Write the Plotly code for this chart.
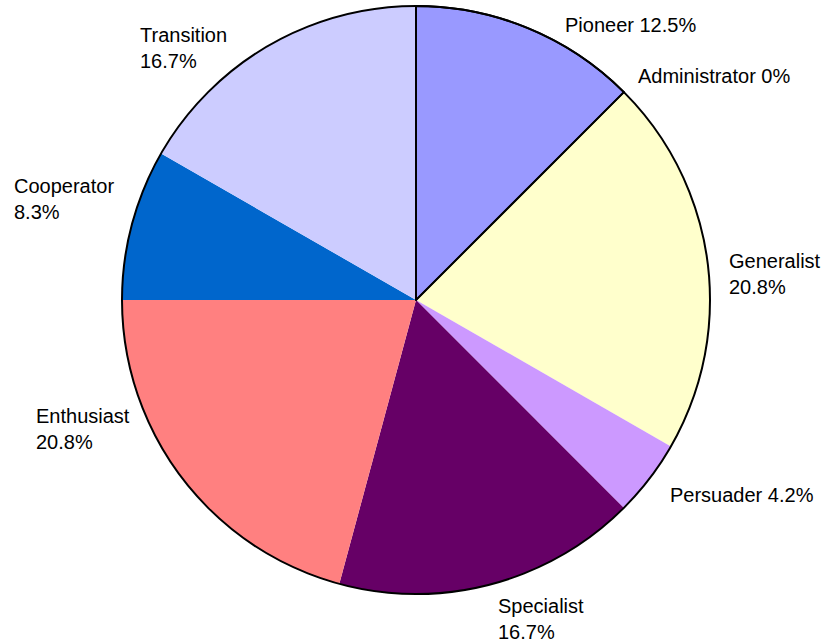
import math
import plotly.graph_objects as go

# Share of each role (percent)
roles = ["Pioneer", "Administrator", "Generalist", "Persuader",
         "Specialist", "Enthusiast", "Cooperator", "Transition"]
shares = [12.5, 0, 20.8, 4.2, 16.7, 20.8, 8.3, 16.7]
colors = ["#9999FF", "#993366", "#FFFFCC", "#CC99FF",
          "#660066", "#FF8080", "#0066CC", "#CCCCFF"]
# Labels that break onto two lines
two_line = {"Generalist", "Specialist", "Enthusiast", "Cooperator", "Transition"}

W, H = 829, 643
CX, CY, R = 416, 300, 294          # pie centre and radius in pixels
dom_x = [(CX - R) / W, (CX + R) / W]
dom_y = [1 - (CY + R) / H, 1 - (CY - R) / H]

# per-label nudge (px) from the rim point at the slice's mid-angle
label_shift = {
    "Pioneer": (34, 3), "Administrator": (12, 16), "Generalist": (20, -13),
    "Persuader": (19, -16), "Specialist": (4, -35), "Enthusiast": (-149, 50),
    "Cooperator": (-120, 25), "Transition": (-131, -2),
}

fig = go.Figure()

# filled slices
fig.add_trace(go.Pie(
    labels=roles, values=shares, sort=False, direction="clockwise", rotation=0,
    marker=dict(colors=colors, line=dict(color="rgba(0,0,0,0)", width=0)),
    textinfo="none", hoverinfo="label+percent", showlegend=False,
    domain=dict(x=dom_x, y=dom_y),
))
# black outline on the first slice edges (incl. the zero-size slice)
fig.add_trace(go.Pie(
    labels=roles, values=shares, sort=False, direction="clockwise", rotation=0,
    marker=dict(colors=["rgba(0,0,0,0)"] * len(roles),
                line=dict(color="#000000", width=[2, 1.5, 0, 0, 0, 0, 0, 0])),
    textinfo="none", hoverinfo="skip", showlegend=False,
    domain=dict(x=dom_x, y=dom_y),
))
# outer rim
fig.add_trace(go.Pie(
    labels=["rim"], values=[1],
    marker=dict(colors=["rgba(0,0,0,0)"], line=dict(color="#000000", width=2)),
    textinfo="none", hoverinfo="skip", showlegend=False,
    domain=dict(x=dom_x, y=dom_y),
))

# category labels placed around the rim at each slice's mid-angle
total = sum(shares)
cum = 0.0
annotations = []
for name, v in zip(roles, shares):
    mid = (cum + v / 2) / total * 2 * math.pi
    cum += v
    px = CX + R * math.sin(mid)
    py = CY - R * math.cos(mid)
    sep = "<br>" if name in two_line else " "
    dx, dy = label_shift[name]
    annotations.append(dict(
        x=px / W, y=1 - py / H, xref="paper", yref="paper",
        text=f"{name}{sep}{v:g}%", showarrow=False,
        xanchor="left", yanchor="middle", align="left",
        xshift=dx, yshift=dy,
        font=dict(family="Liberation Sans, Arial, sans-serif", size=20, color="#000000"),
    ))

fig.update_layout(
    width=W, height=H,
    margin=dict(l=0, r=0, t=0, b=0),
    paper_bgcolor="#FFFFFF", plot_bgcolor="#FFFFFF",
    annotations=annotations,
    showlegend=False,
)

fig.write_html("out.html")
